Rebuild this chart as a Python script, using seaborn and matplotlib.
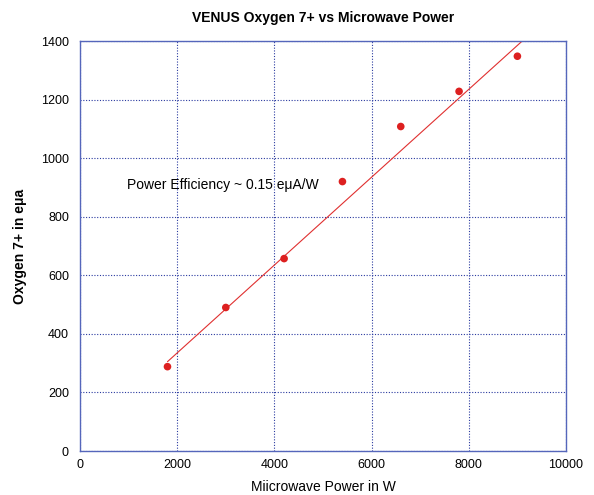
import numpy as np
import pandas as pd
import matplotlib
matplotlib.use("Agg")
import matplotlib.pyplot as plt
import seaborn as sns

power = [1800, 3000, 4200, 5400, 6600, 7800, 9000]
oxygen = [288, 490, 657, 920, 1108, 1228, 1348]
fit_x = [1800, 9400]
fit_slope = 0.15
fit_intercept = 35

sns.set_style("white")
plt.rcParams['font.family'] = ['Liberation Sans', 'DejaVu Sans']
plt.rcParams['text.color'] = 'black'
plt.rcParams['axes.labelcolor'] = 'black'
plt.rcParams['xtick.color'] = 'black'
plt.rcParams['ytick.color'] = 'black'

df = pd.DataFrame({"power": power, "oxygen": oxygen})
fit = pd.DataFrame({"x": fit_x, "y": [fit_slope * v + fit_intercept for v in fit_x]})

fig = plt.figure(figsize=(5.94, 4.95), dpi=100)
ax = fig.add_axes([80 / 594, 1 - 451 / 495, 486 / 594, 410 / 495])

sns.lineplot(data=fit, x="x", y="y", ax=ax, color="#e03030", linewidth=0.8)
sns.scatterplot(data=df, x="power", y="oxygen", ax=ax, color="#dd2020",
                s=30, edgecolor="none", zorder=3)

ax.set_xlim(0, 10000)
ax.set_ylim(0, 1400)
ax.set_xticks(range(0, 10001, 2000))
ax.set_yticks(range(0, 1401, 200))
ax.grid(True, color="#2a3aa0", linestyle=(0, (1, 1.5)), linewidth=0.8)
for sp in ax.spines.values():
    sp.set_color("#5566bb")
    sp.set_linewidth(1.0)
ax.tick_params(direction="in", length=4, color="#1a2a99", labelsize=9)
ax.tick_params(axis="x", pad=6)
ax.tick_params(axis="y", pad=8)

ax.set_title("VENUS Oxygen 7+ vs Microwave Power", fontsize=10, fontweight="bold", pad=14)
ax.set_xlabel("Miicrowave Power in W", fontsize=10, labelpad=6)
ax.set_ylabel("Oxygen 7+ in e\u03bca", fontsize=10, fontweight="bold", labelpad=10)
ax.text(967, 908, "Power Efficiency ~ 0.15 e\u03bcA/W", fontsize=10, va="center", ha="left")

fig.savefig("out.png", dpi=100)
